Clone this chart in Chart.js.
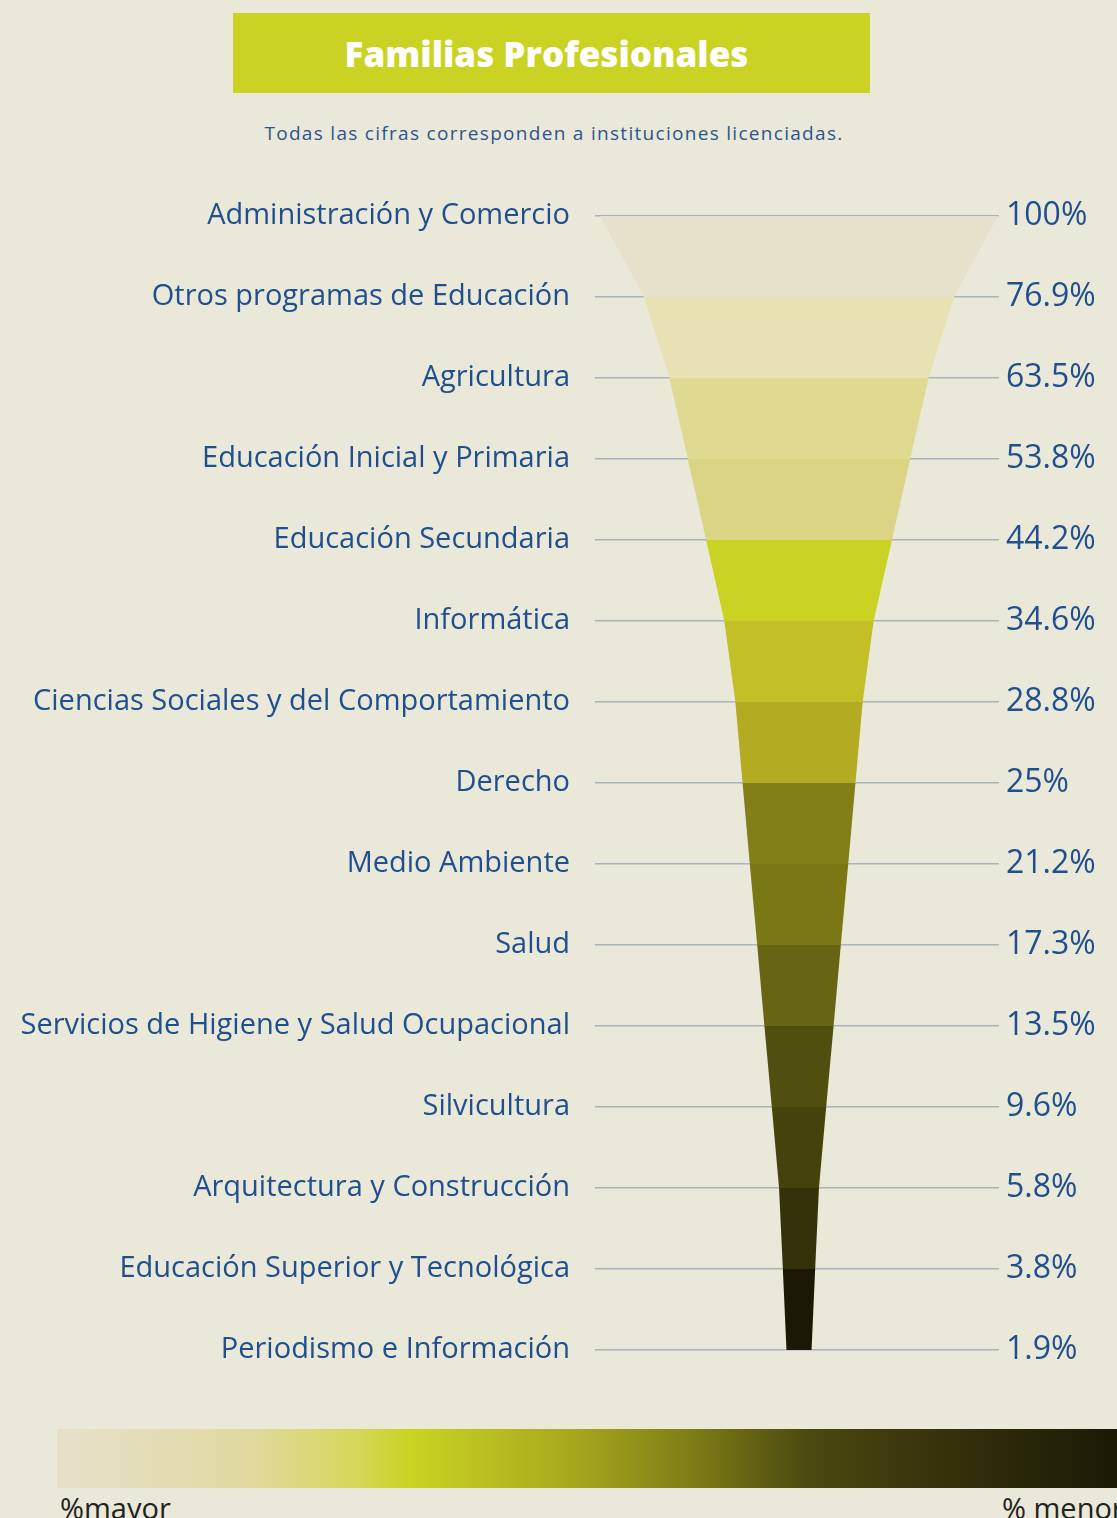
<!DOCTYPE html>
<html lang="es">
<head>
<meta charset="utf-8">
<title>Familias Profesionales</title>
<script src="https://cdn.jsdelivr.net/npm/chart.js@4.4.1/dist/chart.umd.min.js"></script>
<style>
  html, body { margin: 0; padding: 0; }
  body {
    width: 1117px; height: 1518px; overflow: hidden;
    background: #eae8d8; position: relative;
    font-family: "Open Sans", Lato, sans-serif;
  }
  #titleBox {
    position: absolute; left: 233px; top: 13px; width: 637px; height: 80px;
    background: #cad323; color: #fff; font-weight: 800; font-size: 35px;
    display: flex; align-items: center; justify-content: center;
    padding-right: 10px; box-sizing: border-box;
  }
  #subtitle {
    position: absolute; left: 0; width: 1108px; top: 120px; text-align: center;
    font-size: 19px; letter-spacing: 1.3px; color: #2c5590;
  }
  #chartWrap { position: absolute; left: 0; top: 160px; }
  #scaleBar {
    position: absolute; left: 57px; top: 1429px; width: 1070px; height: 59px;
    background: linear-gradient(to right, #e6e0ca 0%, #e1d9a0 18%, #d6d65a 28%, #cad323 33%,
      #a9a81d 48%, #7c7a16 60%, #4b4a10 70%, #3b360c 80%, #292708 90%, #1a1805 100%);
  }
  .scaleLabel { position: absolute; top: 1488px; font-size: 29px; color: #222; white-space: nowrap; }
</style>
</head>
<body>
<div id="titleBox">Familias Profesionales</div>
<div id="subtitle">Todas las cifras corresponden a instituciones licenciadas.</div>
<div id="chartWrap"><canvas id="funnel" width="1117" height="1250"></canvas></div>
<div id="scaleBar"></div>
<div class="scaleLabel" style="left:60px">%mayor</div>
<div class="scaleLabel" style="left:1002px">% menor</div>

<script>
// categories, top to bottom
const categories = [
  'Administración y Comercio',
  'Otros programas de Educación',
  'Agricultura',
  'Educación Inicial y Primaria',
  'Educación Secundaria',
  'Informática',
  'Ciencias Sociales y del Comportamiento',
  'Derecho',
  'Medio Ambiente',
  'Salud',
  'Servicios de Higiene y Salud Ocupacional',
  'Silvicultura',
  'Arquitectura y Construcción',
  'Educación Superior y Tecnológica',
  'Periodismo e Información'
];
const values = [100, 76.9, 63.5, 53.8, 44.2, 34.6, 28.8, 25, 21.2, 17.3, 13.5, 9.6, 5.8, 3.8, 1.9];
const pctLabels = ['100%', '76.9%', '63.5%', '53.8%', '44.2%', '34.6%', '28.8%', '25%',
  '21.2%', '17.3%', '13.5%', '9.6%', '5.8%', '3.8%', '1.9%'];
// one colour per band between two rows
const bandColors = ['#e6e1cb', '#e8e1b3', '#e0d991', '#dad484', '#cad323', '#c3bf26', '#b3ab22',
  '#827e18', '#7a7815', '#676414', '#514f10', '#45430c', '#34320a', '#1b1906'];

const NECK = 4.7; // keeps the narrow end of the funnel visible
const labelColor = '#1f4f8e';

const leftEdge = values.map((v, i) => ({ x: -(v + NECK), y: i }));
const rightEdge = values.map((v, i) => ({ x: v + NECK, y: i }));

new Chart(document.getElementById('funnel'), {
  type: 'scatter',
  data: {
    datasets: [
      {
        data: leftEdge,
        showLine: true,
        borderWidth: 0,
        pointRadius: 0,
        fill: false
      },
      {
        data: rightEdge,
        showLine: true,
        borderWidth: 0,
        pointRadius: 0,
        fill: '-1',
        backgroundColor: bandColors[0],
        segment: {
          backgroundColor: ctx => bandColors[ctx.p0DataIndex]
        }
      }
    ]
  },
  options: {
    responsive: false,
    animation: false,
    indexAxis: 'y',
    // rows 81px apart so the band edges sit on whole pixels
    layout: { padding: { top: 56, bottom: 60 } },
    plugins: { legend: { display: false }, tooltip: { enabled: false } },
    scales: {
      x: { display: false, min: -107.37, max: 105.26 },
      y: {
        position: 'left',
        reverse: true,
        min: 0, max: 14,
        afterFit: scale => { scale.width = 595; },
        border: { display: false },
        grid: { color: '#aab3bb', lineWidth: 1.5, drawTicks: false },
        ticks: {
          stepSize: 1,
          padding: 25,
          color: labelColor,
          font: { family: 'Open Sans', size: 29, weight: 500 },
          callback: v => categories[v]
        }
      },
      y2: {
        position: 'right',
        reverse: true,
        min: 0, max: 14,
        afterFit: scale => { scale.width = 118; },
        border: { display: false },
        grid: { display: false, drawTicks: false },
        ticks: {
          stepSize: 1,
          padding: 7,
          color: labelColor,
          font: { family: 'Open Sans', size: 32, weight: 500 },
          callback: v => pctLabels[v]
        }
      }
    }
  }
});
</script>
</body>
</html>
